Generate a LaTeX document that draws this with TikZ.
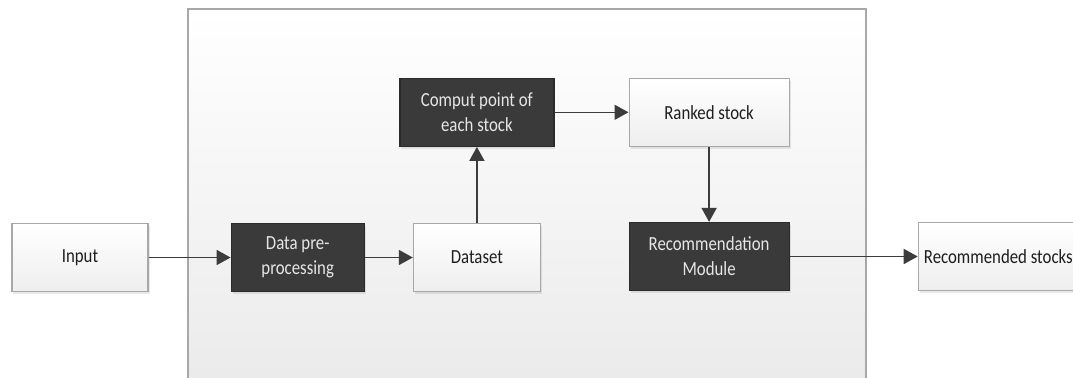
\documentclass[tikz,border=0pt]{standalone}
\usepackage{fontspec}
\setmainfont{Carlito}[FakeStretch=0.84]
\usepackage{tikz}
\usetikzlibrary{arrows.meta,positioning,shadows,backgrounds}

\definecolor{darkfill}{HTML}{3A3A3A}
\definecolor{darkline}{HTML}{2A2A2A}
\definecolor{boxline}{HTML}{A8A8A8}
\definecolor{lightbot}{HTML}{EEEEEE}
\definecolor{panelbot}{HTML}{EAEAEA}
\definecolor{arrcol}{HTML}{3C3C3C}
\definecolor{txtdark}{HTML}{1E1E1E}
\definecolor{txtlight}{HTML}{E6E6E6}

\begin{document}
\begin{tikzpicture}[
  x=1bp, y=1bp,
  font=\fontsize{20bp}{25bp}\selectfont,
  >={Triangle[length=14bp,width=15bp]},
  box/.style={draw=boxline, line width=1.2bp, align=center, minimum height=68bp,
              inner sep=2bp,
              drop shadow={shadow xshift=1.5bp, shadow yshift=-2.5bp, opacity=0.18}},
  light/.style={box, top color=white, bottom color=lightbot, text=txtdark},
  dark/.style={box, fill=darkfill, draw=darkline, text=txtlight},
  panel/.style={draw=boxline, line width=2bp, top color=white, bottom color=panelbot},
  arr/.style={->, draw=arrcol, line width=1.6bp}
]
\useasboundingbox (0,0) rectangle (1073,-377);

% ---------- outer input / output ----------
\node[light, minimum width=136bp] (input) at (80,-257.5) {Input};

% ---------- processing chain ----------
\node[dark, minimum width=133bp, right=82bp of input] (prep) {Data pre-\\processing};
\node[light, minimum width=127bp, right=48bp of prep] (dataset) {Dataset};
\node[dark, minimum width=154bp, above=76bp of dataset] (comput) {Comput point of\\each stock};
\node[light, minimum width=160bp, right=74bp of comput] (ranked) {Ranked stock};
\node[dark, minimum width=160bp, below=75bp of ranked] (recmod) {Recommendation\\Module};
\node[light, minimum width=160bp, right=128bp of recmod] (recst) {Recommended stocks};

\draw[arr] (input) -- (prep);
\draw[arr] (prep) -- (dataset);
\draw[arr] (dataset) -- (comput);
\draw[arr] (comput) -- (ranked);
\draw[arr] (ranked) -- (recmod);
\draw[arr] (recmod) -- (recst);

% ---------- system panel ----------
\begin{scope}[on background layer]
  \draw[panel] (188,-9) rectangle (866,-395);
\end{scope}

\end{tikzpicture}
\end{document}
